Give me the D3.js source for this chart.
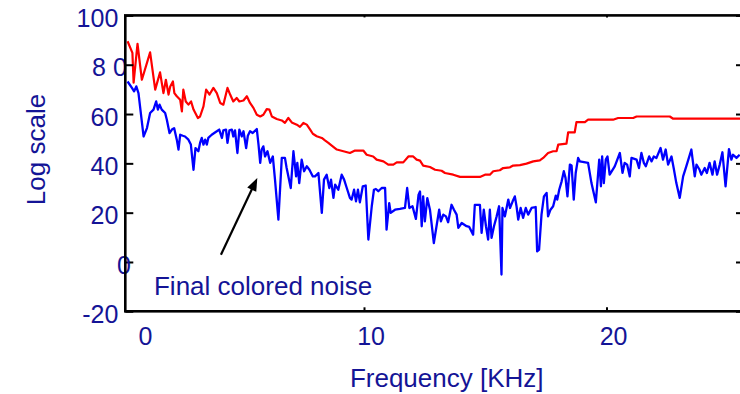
<!DOCTYPE html>
<html><head><meta charset="utf-8">
<script src="https://cdn.jsdelivr.net/npm/d3@7"></script>
<style>html,body{margin:0;padding:0;background:#fff;} svg{display:block;}</style>
</head><body><svg id="c" width="740" height="394"></svg>
<script>
// ---- data (kHz, log-scale level) ----
const redFreq = [0.25,0.45,0.50,0.66,0.84,1.18,1.39,1.59,1.73,1.83,1.94,2.01,2.12,2.18,2.28,2.42,2.49,2.55,2.65,2.76,2.87,2.97,3.15,3.24,3.38,3.49,3.63,3.79,3.93,4.07,4.20,4.37,4.48,4.61,4.75,4.86,5.03,5.17,5.30,5.44,5.58,5.72,5.85,5.99,6.10,6.20,6.40,6.61,6.74,6.88,7.02,7.23,7.36,7.50,7.64,7.78,7.89,8.05,8.26,8.39,8.53,8.67,8.88,9.15,9.42,9.63,9.97,10.11,10.38,10.52,10.80,11.00,11.21,11.35,11.62,11.83,12.03,12.17,12.31,12.44,12.72,12.93,13.20,13.34,13.68,13.96,14.78,14.99,15.19,15.33,15.60,15.74,16.02,16.15,16.43,16.70,16.98,17.25,17.39,17.59,17.80,17.94,18.01,18.35,18.42,18.69,18.76,19.11,19.24,20.27,20.48,21.10,21.24,22.61,22.75,25.60];
const redLevel = [89.5,84.8,72.7,88.5,73.9,85.0,69.9,76.9,68.5,73.9,67.9,71.2,73.2,68.5,67.2,65.8,61.1,69.9,65.1,63.8,65.1,61.8,58.4,59.0,63.1,69.9,67.9,70.6,68.5,64.5,63.8,70.6,67.9,65.1,66.5,65.1,65.5,67.2,64.5,62.5,59.7,59.0,59.7,62.0,61.8,59.0,58.0,57.4,56.4,58.4,56.6,55.7,54.8,56.4,55.7,53.7,52.0,51.0,50.3,49.3,48.3,47.2,45.6,44.9,44.2,45.2,45.2,43.5,42.8,41.5,40.8,39.5,39.5,40.4,40.4,42.8,42.8,41.5,41.1,39.1,38.5,37.4,37.0,36.1,35.4,34.5,34.5,35.4,35.4,36.8,37.2,38.1,38.4,39.1,39.3,39.9,40.8,41.2,42.2,44.2,44.9,44.9,47.6,48.0,52.6,52.6,56.7,56.7,57.7,57.7,58.4,58.4,59.0,59.0,58.1,58.1];

const blueFreq = [0.25,0.43,0.52,0.61,0.70,0.91,1.05,1.18,1.32,1.43,1.50,1.57,1.66,1.80,1.87,1.98,2.08,2.17,2.28,2.35,2.42,2.53,2.62,2.76,2.86,2.97,3.05,3.17,3.24,3.31,3.38,3.45,3.52,3.58,3.72,3.93,4.03,4.14,4.20,4.31,4.37,4.45,4.55,4.61,4.68,4.78,4.86,4.96,5.03,5.14,5.21,5.30,5.41,5.58,5.65,5.72,5.78,5.85,5.92,6.02,6.13,6.24,6.33,6.47,6.61,6.74,6.81,6.98,7.09,7.20,7.25,7.33,7.43,7.53,7.64,7.75,7.89,7.98,8.12,8.26,8.35,8.46,8.57,8.64,8.74,8.81,8.94,9.08,9.18,9.29,9.42,9.49,9.59,9.67,9.75,9.83,9.95,10.07,10.18,10.32,10.41,10.49,10.59,10.73,10.87,10.93,11.04,11.10,11.28,11.48,11.69,11.78,11.87,12.00,12.14,12.25,12.31,12.38,12.44,12.51,12.61,12.72,12.88,12.99,13.10,13.17,13.27,13.38,13.47,13.61,13.71,13.82,13.89,14.03,14.23,14.34,14.50,14.57,14.78,14.85,14.94,15.03,15.12,15.19,15.26,15.36,15.47,15.57,15.67,15.71,15.81,15.95,16.02,16.13,16.22,16.29,16.36,16.46,16.56,16.67,16.77,16.91,17.08,17.14,17.22,17.32,17.42,17.53,17.59,17.69,17.80,17.91,17.97,18.05,18.15,18.24,18.31,18.39,18.49,18.56,18.65,18.73,18.83,18.90,19.24,19.38,19.56,19.70,19.77,19.82,19.89,19.97,20.04,20.13,20.34,20.55,20.66,20.75,20.85,20.96,21.03,21.24,21.34,21.44,21.54,21.62,21.76,21.86,21.95,22.06,22.23,22.33,22.44,22.54,22.68,22.77,22.88,23.02,23.16,23.29,23.50,23.64,23.71,23.84,23.91,24.05,24.14,24.25,24.37,24.46,24.56,24.67,24.78,24.91,25.05,25.15,25.22,25.36,25.49];
const blueLevel = [73.2,70.6,69.2,71.2,68.5,50.9,54.3,60.4,61.8,65.1,61.8,63.8,61.8,60.4,57.7,52.3,53.7,54.3,49.6,45.6,51.6,51.2,50.9,49.6,47.6,37.4,46.2,44.9,48.3,50.3,47.6,49.6,47.6,50.3,51.6,53.0,53.7,50.3,53.4,53.7,48.3,53.4,53.7,50.9,53.4,44.2,53.7,50.9,53.0,46.2,51.2,53.0,52.3,53.9,47.6,40.2,45.6,46.9,42.8,44.9,40.2,42.8,33.4,17.2,42.2,42.2,38.1,30.0,44.9,34.7,40.2,32.0,41.5,36.8,38.8,37.4,34.7,34.7,36.1,19.9,33.4,35.4,30.0,33.4,26.0,31.4,29.3,35.4,33.4,30.0,26.0,25.3,29.3,24.6,29.3,24.2,30.7,31.0,9.1,22.6,29.3,29.6,28.7,30.0,30.0,13.1,23.9,19.9,21.2,21.5,21.9,30.0,21.9,22.6,17.5,27.3,28.6,14.5,26.6,16.5,25.9,21.2,7.7,14.5,21.2,16.5,19.2,18.5,16.1,23.2,21.2,19.2,13.8,15.8,14.5,14.2,11.1,23.2,23.2,11.8,21.2,14.5,9.1,21.2,9.8,14.5,18.5,22.6,-5.1,21.9,18.5,25.3,21.9,24.6,26.6,22.6,17.2,21.9,17.9,21.9,19.2,21.9,22.3,4.3,5.0,19.2,26.6,28.0,18.5,21.2,22.6,26.9,25.3,29.3,32.7,36.8,34.1,26.6,39.5,39.1,25.3,36.1,42.2,40.8,40.2,32.0,24.2,41.5,30.7,42.8,32.0,41.5,42.8,35.4,38.8,44.2,36.1,40.2,39.5,34.7,42.2,41.5,38.1,44.2,40.2,38.8,42.8,40.8,42.8,42.2,46.2,41.5,45.6,39.5,42.8,38.1,32.0,26.0,34.7,38.8,45.6,34.7,39.5,37.4,35.4,38.1,36.1,40.2,35.4,40.8,35.4,39.5,44.5,30.7,45.8,41.5,43.5,42.2,43.5];

const xTicks = [0, 10, 20];
const yTicks = [-20, 0, 20, 40, 60, 80, 100];
const yTickLabels = ["-20", "0", "20", "40", "60", "8 0", "100"];
const xLabel = "Frequency [KHz]";
const yLabel = "Log scale";
const noteText = "Final colored noise";
const noteTextAt = [1.34, -13.3];
const noteArrowFrom = [4.1, 2.9];
const noteArrowTo = [5.6, 34.1];

// ---- drawing ----
const TXT = "#141496";
const FONT = "'Liberation Sans', Arial, Helvetica, sans-serif";
const svg = d3.select("#c");
const L = 125.3, R = 744, T = 15.4, B = 311.3;

const x = d3.scaleLinear().domain([0, 25]).range([121.5, 121.5 + 24.25 * 25]);
const y = d3.scaleLinear().domain([-20, 100]).range([B, T]);

svg.append("clipPath").attr("id", "clip").append("rect")
  .attr("x", L).attr("y", T).attr("width", R - L).attr("height", B - T);

const line = d3.line().x(d => x(d[0])).y(d => y(d[1]));
const g = svg.append("g").attr("clip-path", "url(#clip)");
g.append("path").datum(d3.zip(redFreq, redLevel))
  .attr("d", line).attr("fill", "none").attr("stroke", "#ff0000")
  .attr("stroke-width", 2.2).attr("stroke-linejoin", "round");
g.append("path").datum(d3.zip(blueFreq, blueLevel))
  .attr("d", line).attr("fill", "none").attr("stroke", "#0000ff")
  .attr("stroke-width", 2.3).attr("stroke-linejoin", "round");

// Y axis left (labels)
const yAx = svg.append("g").attr("transform", `translate(${L},0)`)
  .call(d3.axisLeft(y).tickValues(yTicks).tickFormat((d, i) => yTickLabels[i])
    .tickSize(-8).tickPadding(7));
yAx.select(".domain").remove();
yAx.selectAll("line").attr("stroke", "#000").attr("stroke-width", 2);
yAx.selectAll("text").attr("fill", TXT).style("font-family", FONT).style("font-size", "25px")
  .attr("dy", "0.45em")
  .attr("x", d => d === 0 ? 5.5 : (d === 80 ? 1.5 : -7));

// Y axis right (ticks only)
const yAxR = svg.append("g").attr("transform", `translate(${R},0)`)
  .call(d3.axisRight(y).tickValues(yTicks).tickFormat("").tickSize(-8));
yAxR.select(".domain").remove();
yAxR.selectAll("line").attr("stroke", "#000").attr("stroke-width", 2);

// X axis bottom
const xAx = svg.append("g").attr("transform", `translate(0,${B})`)
  .call(d3.axisBottom(x).tickValues(xTicks).tickFormat(d3.format("d"))
    .tickSize(-4).tickPadding(16));
xAx.select(".domain").remove();
xAx.selectAll("line").attr("stroke", "#000").attr("stroke-width", 2)
  .style("display", d => d === 0 ? "none" : null);
xAx.selectAll("text").attr("fill", TXT).style("font-family", FONT).style("font-size", "25px")
  .attr("x", d => d === 0 ? 23.5 : 6.6);

// X axis top (ticks only)
const xAxT = svg.append("g").attr("transform", `translate(0,${T})`)
  .call(d3.axisTop(x).tickValues(xTicks.filter(d => d > 0)).tickFormat("").tickSize(-2));
xAxT.select(".domain").remove();
xAxT.selectAll("line").attr("stroke", "#000").attr("stroke-width", 2);

// frame
svg.append("rect").attr("x", L).attr("y", T).attr("width", R - L).attr("height", B - T)
  .attr("fill", "none").attr("stroke", "#000").attr("stroke-width", 2.6);

// titles
svg.append("text").attr("x", 446.7).attr("y", 386.7).attr("text-anchor", "middle")
  .attr("fill", TXT).style("font-family", FONT).style("font-size", "26px").text(xLabel);
svg.append("text").attr("transform", "translate(45,149.5) rotate(-90)").attr("text-anchor", "middle")
  .attr("fill", TXT).style("font-family", FONT).style("font-size", "26px").text(yLabel);

// annotation
svg.append("text").attr("x", x(noteTextAt[0])).attr("y", y(noteTextAt[1]))
  .attr("fill", TXT).style("font-family", FONT).style("font-size", "26px").text(noteText);
const ax0 = x(noteArrowFrom[0]), ay0 = y(noteArrowFrom[1]);
const ax1 = x(noteArrowTo[0]), ay1 = y(noteArrowTo[1]);
const len = Math.hypot(ax1 - ax0, ay1 - ay0);
const ux = (ax1 - ax0) / len, uy = (ay1 - ay0) / len;
const hl = 13, hw = 5;
const bx = ax1 - ux * hl, by = ay1 - uy * hl;
svg.append("line").attr("x1", ax0).attr("y1", ay0).attr("x2", bx + ux * 2).attr("y2", by + uy * 2)
  .attr("stroke", "#000").attr("stroke-width", 2.2);
svg.append("path")
  .attr("d", `M${ax1},${ay1}L${bx - uy * hw},${by + ux * hw}L${bx + uy * hw},${by - ux * hw}Z`)
  .attr("fill", "#000");
</script></body></html>
